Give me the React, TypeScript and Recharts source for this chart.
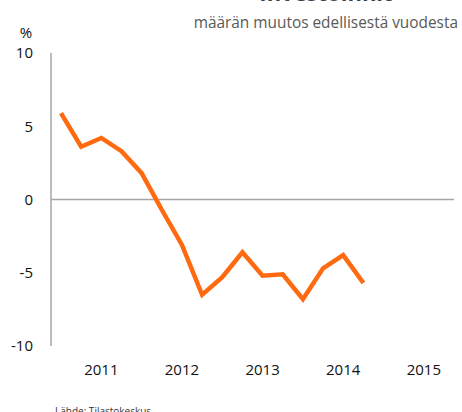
import React from "react";
import { LineChart, Line, XAxis, YAxis, ReferenceLine } from "recharts";

const quarters = [
  "2011Q1", "2011Q2", "2011Q3", "2011Q4",
  "2012Q1", "2012Q2", "2012Q3", "2012Q4",
  "2013Q1", "2013Q2", "2013Q3", "2013Q4",
  "2014Q1", "2014Q2", "2014Q3", "2014Q4",
  "2015Q1", "2015Q2", "2015Q3", "2015Q4",
];

const change = [
  5.9, 3.6, 4.2, 3.3,
  1.8, -0.7, -3.1, -6.5,
  -5.3, -3.6, -5.2, -5.1,
  -6.8, -4.7, -3.8, -5.7,
  null, null, null, null,
];

const yTicks = [-10, -5, 0, 5, 10];

const data = quarters.map((q, i) => ({ q, value: change[i] }));

const font = "'Open Sans', sans-serif";

export default function App() {
  return (
    <div style={{ position: "absolute", left: 0, top: 0, width: 462, height: 412, background: "#fff" }}>
      <LineChart
        width={462}
        height={412}
        data={data}
        margin={{ top: 53, right: 8, bottom: 36, left: 0 }}
      >
        <XAxis
          dataKey="q"
          axisLine={false}
          tickLine={false}
          interval={0}
          height={30}
          padding={{ left: 10, right: 10 }}
          tickMargin={12}
          tickFormatter={(v: string) => (v.endsWith("Q3") ? v.slice(0, 4) : "")}
          tick={{ fill: "#111", fontSize: 15, fontFamily: font }}
        />
        <YAxis
          domain={[-10, 10]}
          ticks={yTicks}
          width={51}
          tickLine={false}
          tickSize={0}
          tickMargin={18}
          axisLine={{ stroke: "#a6a6a6", strokeWidth: 1.5 }}
          tick={{ fill: "#111", fontSize: 15, fontFamily: font }}
        />
        <ReferenceLine y={0} stroke="#a6a6a6" strokeWidth={1.5} />
        <Line
          type="linear"
          dataKey="value"
          stroke="#ff6a10"
          strokeWidth={4.5}
          dot={false}
          isAnimationActive={false}
          connectNulls={false}
        />
        <text x={326} y={1} textAnchor="middle" fontFamily={font} fontWeight="bold" fontSize={22} fill="#404040">
          Investoinnit
        </text>
        <text x={458} y={28} textAnchor="end" fontFamily={font} fontSize={15.4} fill="#595959">
          määrän muutos edellisestä vuodesta
        </text>
        <text x={26} y={38} textAnchor="middle" fontFamily={font} fontSize={15} fill="#111">
          %
        </text>
        <text x={55} y={415} textAnchor="start" fontFamily={font} fontSize={10} fill="#333">
          Lähde: Tilastokeskus
        </text>
      </LineChart>
    </div>
  );
}
